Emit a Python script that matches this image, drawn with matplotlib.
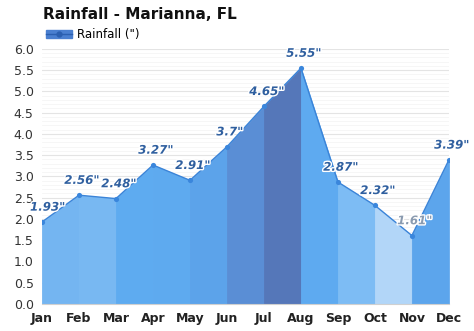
"""Monthly rainfall area chart for Marianna, FL."""

import matplotlib
matplotlib.use("Agg")
import matplotlib.pyplot as plt
import matplotlib.patheffects as pe
from matplotlib.lines import Line2D
from matplotlib.patches import Patch
from matplotlib.ticker import MultipleLocator

months = ["Jan", "Feb", "Mar", "Apr", "May", "Jun",
          "Jul", "Aug", "Sep", "Oct", "Nov", "Dec"]
rainfall = [1.93, 2.56, 2.48, 3.27, 2.91, 3.7,
            4.65, 5.55, 2.87, 2.32, 1.61, 3.39]
labels = ['1.93"', '2.56"', '2.48"', '3.27"', '2.91"', '3.7"',
          '4.65"', '5.55"', '2.87"', '2.32"', '1.61"', '3.39"']

# shade of each band between consecutive months
band_colors = ["#74b5f1", "#78b8f2", "#5eabf0", "#5eaaef", "#5ca3ea", "#5a8ed5",
               "#5577b9", "#5eaaf0", "#7dbcf4", "#b2d6f8", "#5ca5ec"]
label_colors = ["#2f5f9f"] * 10 + ["#8a9bb0", "#2f5f9f"]

fig = plt.figure(figsize=(4.74, 3.31), dpi=100)
ax = fig.add_axes([0.0886, 0.0816, 0.8584, 0.7704])

x = list(range(len(months)))
for i in range(len(x) - 1):
    ax.fill_between(x[i:i + 2], rainfall[i:i + 2], 0,
                    facecolor=band_colors[i], edgecolor=band_colors[i],
                    linewidth=0.6, zorder=2)

ax.plot(x, rainfall, color="#3b84d8", linewidth=1.0, zorder=3)
ax.scatter(x, rainfall, s=14, color="#3a86dc", zorder=4, linewidths=0)

for xi, yi, txt, c in zip(x, rainfall, labels, label_colors):
    dx = 4 if xi == 0 else 2
    ax.annotate(txt, (xi, yi), xytext=(dx, 6), textcoords="offset points",
                ha="center", va="bottom", fontsize=8.5, fontweight="bold",
                fontstyle="italic", color=c, zorder=5,
                path_effects=[pe.withStroke(linewidth=2, foreground="white")])

ax.set_xlim(0, 11)
ax.set_ylim(0, 6.0)
ax.yaxis.set_major_locator(MultipleLocator(0.5))
ax.yaxis.set_minor_locator(MultipleLocator(0.1))
ax.grid(axis="y", which="major", color="#e4e4e4", linewidth=0.8, zorder=0)
ax.grid(axis="y", which="minor", color="#f5f5f5", linewidth=0.6, zorder=0)
ax.set_axisbelow(True)

ax.set_xticks(x)
ax.set_xticklabels(months, fontsize=9, fontweight="bold", color="#222222")
ax.set_yticks([i * 0.5 for i in range(13)])
ax.set_yticklabels([f"{i * 0.5:.1f}" for i in range(13)], fontsize=9, color="#333333")
ax.tick_params(axis="both", which="both", length=0)
ax.tick_params(axis="y", pad=6)
ax.tick_params(axis="x", pad=6)
for side in ["top", "right", "left"]:
    ax.spines[side].set_visible(False)
ax.spines["bottom"].set_color("#d0d0d0")

fig.text(0.091, 0.955, "Rainfall - Marianna, FL", fontsize=11, fontweight="bold",
         color="#111111", va="center")

handle = (Patch(facecolor="#4a7fd0", edgecolor="#4a7fd0"),
          Line2D([], [], color="#2b5fb0", marker="o", markersize=3.5, linewidth=1))
fig.legend([handle], ['Rainfall (")'], loc="center left",
           bbox_to_anchor=(0.075, 0.895), frameon=False, fontsize=8.5,
           handlelength=2.2, handleheight=0.6, handletextpad=0.4)

fig.savefig("out.png", dpi=100, facecolor="white")
